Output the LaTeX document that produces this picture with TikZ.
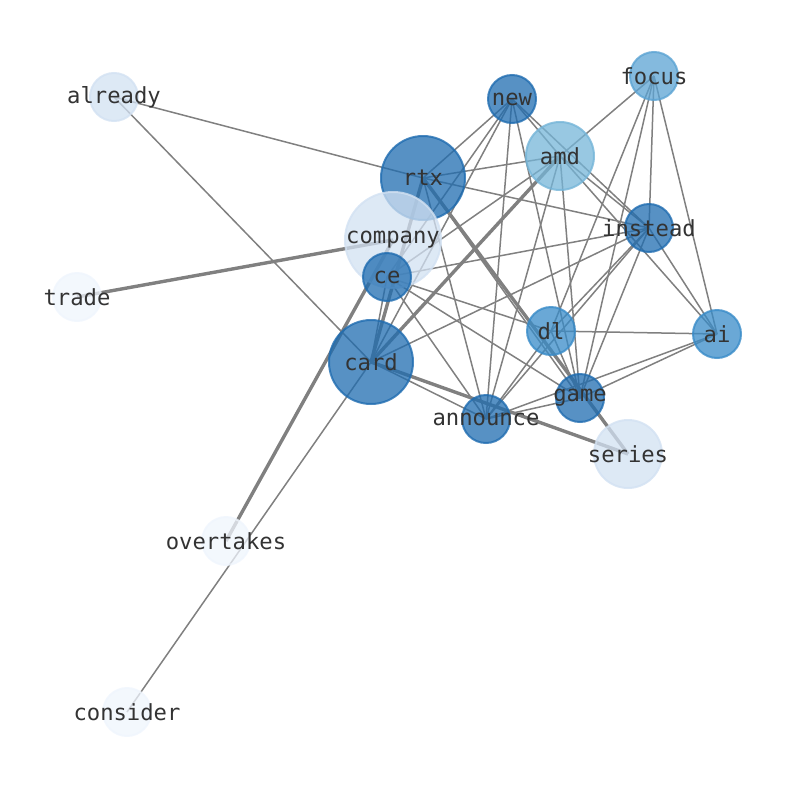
\documentclass[tikz,border=0pt]{standalone}
\usepackage{fontspec}
\setmainfont{DejaVu Sans Mono}
\pgfdeclarelayer{background}
\pgfsetlayers{background,main}
\definecolor{cdark}{HTML}{1F6CB0}
\definecolor{cmid}{HTML}{388BC8}
\definecolor{cfoc}{HTML}{5BA3D3}
\definecolor{camd}{HTML}{75B5D8}
\definecolor{clight}{HTML}{D2E1F2}
\definecolor{cpale}{HTML}{EFF5FD}
\definecolor{edgegray}{HTML}{808080}
\definecolor{txt}{HTML}{333333}
\tikzset{
  nd/.style={circle, inner sep=0pt, line width=2pt, fill opacity=0.75, draw opacity=0.8},
  lbl/.style={text=txt, inner sep=0pt, fill opacity=1, text opacity=1, font=\fontsize{22.2}{26}\selectfont},
  r24/.style={minimum size=48pt},
  r34/.style={minimum size=68pt},
  r42/.style={minimum size=84pt},
  r48/.style={minimum size=96pt},
  ed/.style={draw=edgegray, line width=1.5pt},
  edthick/.style={draw=edgegray, line width=3.4pt},
}
\begin{document}
\begin{tikzpicture}[x=1pt,y=-1pt]
\useasboundingbox (0,0) rectangle (794,790);
% nodes
\node[nd,r24,fill=clight,draw=clight,label={[lbl]center:already}] (already) at (114,97) {};
\node[nd,r24,fill=cdark,draw=cdark,label={[lbl]center:new}] (new) at (512,99) {};
\node[nd,r24,fill=cfoc,draw=cfoc,label={[lbl]center:focus}] (focus) at (654,76) {};
\node[nd,r34,fill=camd,draw=camd,label={[lbl]center:amd}] (amd) at (560,156) {};
\node[nd,r42,fill=cdark,draw=cdark,label={[lbl]center:rtx}] (rtx) at (423,178) {};
\node[nd,r48,fill=clight,draw=clight,label={[lbl]center:company}] (company) at (393,240) {};
\node[nd,r24,fill=cdark,draw=cdark,label={[lbl]center:instead}] (instead) at (649,228) {};
\node[nd,r24,fill=cdark,draw=cdark,label={[lbl]center:ce}] (ce) at (387,277) {};
\node[nd,r24,fill=cpale,draw=cpale,label={[lbl]center:trade}] (trade) at (77,297) {};
\node[nd,r24,fill=cmid,draw=cmid,label={[lbl]center:dl}] (dl) at (551,331) {};
\node[nd,r24,fill=cmid,draw=cmid,label={[lbl]center:ai}] (ai) at (717,334) {};
\node[nd,r42,fill=cdark,draw=cdark,label={[lbl]center:card}] (card) at (371,362) {};
\node[nd,r24,fill=cdark,draw=cdark,label={[lbl]center:game}] (game) at (580,398) {};
\node[nd,r24,fill=cdark,draw=cdark,label={[lbl]center:announce}] (announce) at (486,419) {};
\node[nd,r34,fill=clight,draw=clight,label={[lbl]center:series}] (series) at (628,454) {};
\node[nd,r24,fill=cpale,draw=cpale,label={[lbl]center:overtakes}] (overtakes) at (226,541) {};
\node[nd,r24,fill=cpale,draw=cpale,label={[lbl]center:consider}] (consider) at (127,712) {};
% edges
\begin{pgfonlayer}{background}
\foreach \a/\b in {trade/company, overtakes/company, rtx/card, rtx/series, card/amd, card/series}
  \draw[edthick] (\a.center) -- (\b.center);
\foreach \a/\b in {already/rtx, rtx/instead, already/card, consider/card,
  card/announce, card/ce, card/new, card/instead,
  rtx/new, rtx/amd, rtx/announce, rtx/game,
  new/ce, new/announce, new/game, new/instead, new/amd,
  amd/ai, amd/focus, amd/instead, amd/ce, amd/announce, amd/game,
  focus/dl, focus/game, focus/instead, focus/ai,
  instead/ai, instead/dl, instead/announce, instead/game, instead/ce,
  dl/ai, dl/announce, dl/game, dl/ce,
  ai/game, ai/announce, game/announce, game/ce, announce/ce}
  \draw[ed] (\a.center) -- (\b.center);
\end{pgfonlayer}
\end{tikzpicture}
\end{document}
